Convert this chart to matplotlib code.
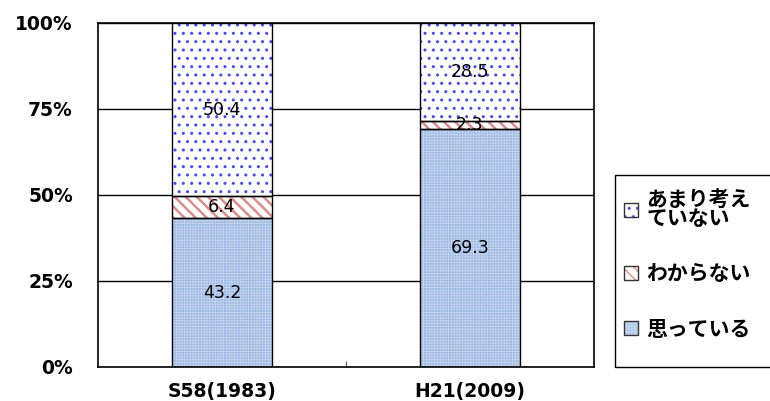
import matplotlib
matplotlib.use("Agg")
import matplotlib.pyplot as plt
from matplotlib.patches import Patch, Rectangle
from matplotlib.legend_handler import HandlerTuple

categories = ["S58(1983)", "H21(2009)"]
labels = ["思っている", "わからない", "あまり考え\nていない"]
omotteiru = [43.2, 69.3]
wakaranai = [6.4, 2.3]
amari = [50.4, 28.5]
series = [omotteiru, wakaranai, amari]
yticks = [0, 25, 50, 75, 100]
ytick_labels = ["0%", "25%", "50%", "75%", "100%"]

styles = [
    dict(facecolor="#9cb8e2", hatch="++++++", hcolor="#c4d5ef", hlw=0.6),
    dict(facecolor="white", hatch="\\\\\\", hcolor="#dc8c8c", hlw=1.8),
    dict(facecolor="white", hatch="..", hcolor="#4848f5", hlw=1.0),
]

fig = plt.figure(figsize=(7.7, 4.01), dpi=100)
ax = fig.add_axes([98 / 770, 1 - 367 / 401, (594 - 98) / 770, (367 - 23) / 401])

x = list(range(len(categories)))
width = 0.4
bottom = [0.0] * len(categories)
handles = []
for vals, st in zip(series, styles):
    bars = ax.bar(x, vals, width, bottom=bottom, color=st["facecolor"],
                  edgecolor=st["hcolor"], hatch=st["hatch"], linewidth=0, zorder=2)
    for b in bars:
        if hasattr(b, "set_hatch_linewidth"):
            b.set_hatch_linewidth(st["hlw"])
    ax.bar(x, vals, width, bottom=bottom, fill=False, edgecolor="black",
           linewidth=1.0, zorder=3)
    for xi, v, b0 in zip(x, vals, bottom):
        ax.text(xi, b0 + v / 2, f"{v:.1f}", ha="center", va="center",
                fontsize=12.5, family="DejaVu Sans", zorder=4)
    hp = Patch(facecolor=st["facecolor"], edgecolor=st["hcolor"], hatch=st["hatch"], linewidth=0)
    if hasattr(hp, "set_hatch_linewidth"):
        hp.set_hatch_linewidth(st["hlw"])
    op = Patch(fill=False, edgecolor="#333333", linewidth=1.0)
    handles.append((hp, op))
    bottom = [b0 + v for b0, v in zip(bottom, vals)]

ax.set_xlim(-0.5, 1.5)
ax.set_ylim(0, 100)
ax.set_yticks(yticks)
ax.set_yticklabels(ytick_labels, fontsize=13.5, fontweight="bold", family="DejaVu Sans")
ax.set_xticks(x)
ax.set_xticklabels(categories, fontsize=13.5, fontweight="bold", family="DejaVu Sans")
ax.tick_params(axis="x", length=0, pad=11)
ax.tick_params(axis="y", length=0, pad=18)
ax.set_xticks([0.5], minor=True)
ax.tick_params(axis="x", which="minor", direction="in", length=4, width=0.8, color="#555555")
ax.yaxis.grid(True, color="black", linewidth=1.0)
ax.set_axisbelow(True)
for s in ax.spines.values():
    s.set_color("black")
    s.set_linewidth(1.2)

# legend frame (extends past the right edge, as in the original)
fig.patches.append(Rectangle((615 / 770, 1 - 367 / 401), 170 / 770, (367 - 175) / 401,
                             transform=fig.transFigure, fill=False,
                             edgecolor="black", linewidth=1.0))

leg = fig.legend(handles[::-1], labels[::-1],
                 handler_map={tuple: HandlerTuple(ndivide=1)},
                 loc="upper left", bbox_to_anchor=(615 / 770, 1 - 180 / 401),
                 prop={"family": ["Noto Sans CJK JP", "DejaVu Sans"], "weight": "bold", "size": 15},
                 frameon=False,
                 handlelength=0.65, handleheight=0.65, handletextpad=0.4,
                 labelspacing=1.65, borderpad=0.45, borderaxespad=0)
for t in leg.get_texts():
    t.set_linespacing(0.85)

fig.savefig("out.png", dpi=100)
